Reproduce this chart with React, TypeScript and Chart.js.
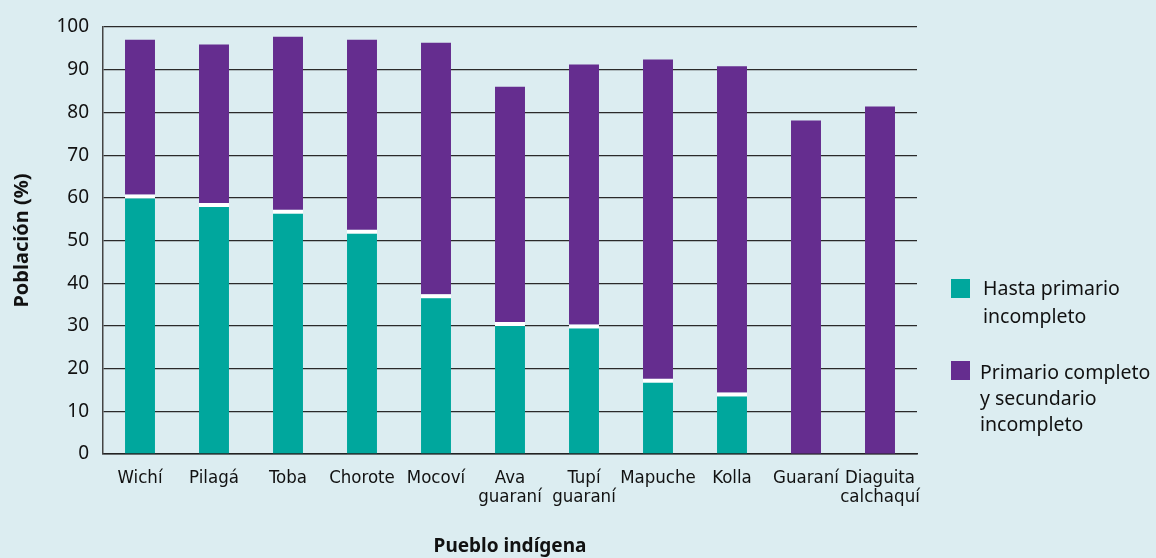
import React, { useEffect, useRef } from "react";
import { Chart, registerables } from "chart.js";

Chart.register(...registerables);

const categories: (string | string[])[] = [
  "Wichí",
  "Pilagá",
  "Toba",
  "Chorote",
  "Mocoví",
  ["Ava", "guaraní"],
  ["Tupí", "guaraní"],
  "Mapuche",
  "Kolla",
  "Guaraní",
  ["Diaguita", "calchaquí"],
];

const hastaPrimarioIncompleto = [60.8, 58.8, 57.2, 52.5, 37.4, 30.9, 30.3, 17.6, 14.4, 0, 0];
const primarioCompletoSecundarioIncompleto = [36.2, 37.1, 40.5, 44.5, 58.9, 55.1, 60.9, 74.8, 76.4, 78.1, 81.4];

const yTicks = [0, 10, 20, 30, 40, 50, 60, 70, 80, 90, 100];

const TEAL = "#00a79d";
const PURPLE = "#652d8f";
const BG = "#dcedf1";

export default function App() {
  const canvasRef = useRef<HTMLCanvasElement | null>(null);

  useEffect(() => {
    document.body.style.margin = "0";
    document.body.style.background = BG;
    const canvas = canvasRef.current;
    if (!canvas) return;
    const chart = new Chart(canvas, {
      type: "bar",
      data: {
        labels: categories,
        datasets: [
          {
            label: "Hasta primario incompleto",
            data: hastaPrimarioIncompleto,
            backgroundColor: TEAL,
            borderColor: "#ffffff",
            borderWidth: { top: 4, left: 0, right: 0, bottom: 0 },
            borderSkipped: "bottom",
            barPercentage: 0.405,
            categoryPercentage: 1,
          },
          {
            label: "Primario completo y secundario incompleto",
            data: primarioCompletoSecundarioIncompleto,
            backgroundColor: PURPLE,
            borderWidth: 0,
            barPercentage: 0.405,
            categoryPercentage: 1,
          },
        ],
      },
      options: {
        animation: false,
        responsive: false,
        maintainAspectRatio: false,
        layout: { padding: { top: 27, right: 239, left: 0, bottom: 0 } },
        plugins: {
          legend: { display: false },
          tooltip: { enabled: false },
        },
        scales: {
          x: {
            stacked: true,
            grid: { display: false, drawTicks: false },
            border: { display: true, color: "#222", width: 1.5 },
            ticks: {
              color: "#111",
              padding: 15,
              maxRotation: 0,
              autoSkip: false,
              font: { family: "'Liberation Sans Narrow', 'DejaVu Sans Condensed', sans-serif", size: 18.5, lineHeight: 1.0 },
            },
            title: {
              display: true,
              text: "Pueblo indígena",
              color: "#111",
              font: { family: "'Noto Sans', sans-serif", size: 19, weight: "bold" },
              padding: { top: 0, bottom: 0 },
            },
            afterFit: (s: any) => {
              s.height = 104;
            },
          },
          y: {
            stacked: true,
            min: 0,
            max: 100,
            afterBuildTicks: (s: any) => {
              s.ticks = yTicks.map((v) => ({ value: v }));
            },
            grid: { color: "#2a2a2a", lineWidth: 1.2, drawTicks: false },
            border: { display: true, color: "#444", width: 1.5 },
            ticks: {
              color: "#111",
              padding: 14,
              font: { family: "'Noto Sans', sans-serif", size: 19 },
            },
            title: {
              display: true,
              text: "Población (%)",
              color: "#111",
              font: { family: "'Noto Sans', sans-serif", size: 20, weight: "bold" },
              padding: { top: 10, bottom: 0 },
            },
            afterFit: (s: any) => {
              s.width = 103;
            },
          },
        },
      },
    });
    return () => chart.destroy();
  }, []);

  const legendText: React.CSSProperties = {
    fontFamily: "'Noto Sans', sans-serif",
    fontSize: 19.5,
    color: "#111",
    lineHeight: "26px",
  };

  return (
    <div style={{ position: "relative", width: 1156, height: 558, background: BG }}>
      <canvas ref={canvasRef} width={1156} height={558} style={{ display: "block" }} />
      <div style={{ position: "absolute", left: 951, top: 274, display: "flex", alignItems: "flex-start" }}>
        <div style={{ width: 19, height: 19, background: TEAL, marginTop: 5, marginRight: 13 }} />
        <div style={{ ...legendText, lineHeight: "28px" }}>
          Hasta primario
          <br />
          incompleto
        </div>
      </div>
      <div style={{ position: "absolute", left: 951, top: 359, display: "flex", alignItems: "flex-start" }}>
        <div style={{ width: 19, height: 19, background: PURPLE, marginTop: 2, marginRight: 10 }} />
        <div style={legendText}>
          Primario completo
          <br />
          y secundario
          <br />
          incompleto
        </div>
      </div>
    </div>
  );
}
